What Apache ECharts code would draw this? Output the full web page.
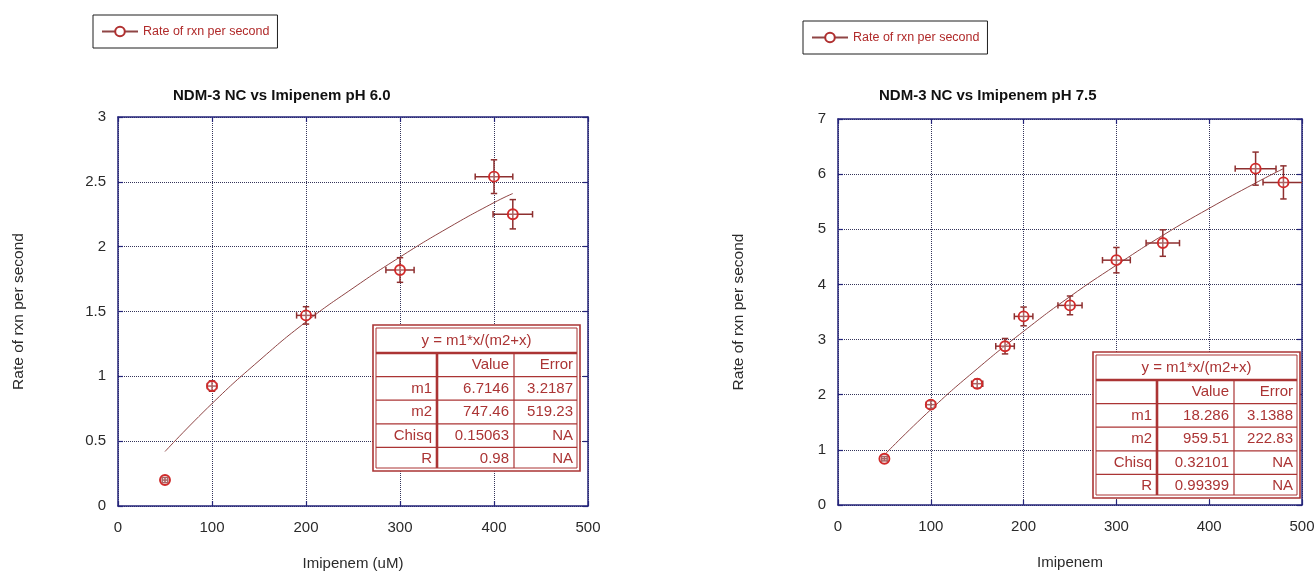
<!DOCTYPE html>
<html>
<head>
<meta charset="utf-8">
<title>NDM-3 NC vs Imipenem</title>
<script src="https://cdn.jsdelivr.net/npm/echarts@6/dist/echarts.min.js"></script>
<style>
  html, body { margin: 0; padding: 0; background: #ffffff; }
  #chart { width: 1315px; height: 572px; }
</style>
</head>
<body>
<div id="chart"></div>
<script>
// ---- measured rates, pH 6.0 ----
const ph60Conc     = [50, 100, 200, 300, 400, 420];
const ph60Rate     = [0.20, 0.925, 1.47, 1.82, 2.54, 2.25];
const ph60ConcErr  = [3, 5, 10, 15, 20, 21];
const ph60RateErr  = [0.02, 0.04, 0.067, 0.095, 0.13, 0.113];
// fitted curve, pH 6.0
const ph60FitConc  = [50, 100, 150, 200, 250, 300, 350, 400, 420];
const ph60FitRate  = [0.42, 0.79, 1.12, 1.42, 1.68, 1.92, 2.14, 2.34, 2.41];

// ---- measured rates, pH 7.5 ----
const ph75Conc     = [50, 100, 150, 180, 200, 250, 300, 350, 450, 480];
const ph75Rate     = [0.84, 1.82, 2.20, 2.88, 3.42, 3.62, 4.44, 4.75, 6.10, 5.85];
const ph75ConcErr  = [3, 5, 6, 10, 10, 13, 15, 18, 22, 22];
const ph75RateErr  = [0.04, 0.07, 0.08, 0.14, 0.17, 0.17, 0.23, 0.24, 0.30, 0.30];
// fitted curve, pH 7.5
const ph75FitConc  = [50, 100, 150, 200, 250, 300, 350, 400, 450, 480];
const ph75FitRate  = [0.91, 1.73, 2.47, 3.15, 3.78, 4.35, 4.89, 5.38, 5.84, 6.10];

// ---- fit parameter tables ----
const fitEquation   = 'y = m1*x/(m2+x)';
const tableHeads    = ['', 'Value', 'Error'];
const paramNames    = ['m1', 'm2', 'Chisq', 'R'];
const ph60FitValue  = ['6.7146', '747.46', '0.15063', '0.98'];
const ph60FitError  = ['3.2187', '519.23', 'NA', 'NA'];
const ph75FitValue  = ['18.286', '959.51', '0.32101', '0.99399'];
const ph75FitError  = ['3.1388', '222.83', 'NA', 'NA'];

// ---- labels ----
const seriesName  = 'Rate of rxn per second';
const titles      = ['NDM-3 NC vs Imipenem pH 6.0', 'NDM-3 NC vs Imipenem pH 7.5'];
const xNames      = ['Imipenem (uM)', 'Imipenem'];
const yName       = 'Rate of rxn per second';

const FONT = 'Liberation Sans, Arial, sans-serif';
const AXIS = '#25257a';
const GRIDLINE = '#34345a';
const RED = '#d02a2a';
const BAR = '#8e2f2f';
const FIT = '#8f4545';
const TABLE_RED = '#ab3434';

const zip = (a, b) => a.map((v, i) => [v, b[i]]);
const zip4 = (a, b, c, d) => a.map((v, i) => [v, b[i], c[i], d[i]]);

// circle marker with horizontal and vertical error bars
function errorBarItem(params, api) {
  const x = api.value(0), y = api.value(1), dx = api.value(2), dy = api.value(3);
  const c = api.coord([x, y]);
  const l = api.coord([x - dx, y]);
  const r = api.coord([x + dx, y]);
  const t = api.coord([x, y + dy]);
  const b = api.coord([x, y - dy]);
  const cap = 3.2;
  const s = { stroke: BAR, lineWidth: 1.5 };
  const ln = (x1, y1, x2, y2) => ({ type: 'line', shape: { x1, y1, x2, y2 }, style: s });
  return {
    type: 'group',
    children: [
      ln(l[0], c[1], r[0], c[1]),
      ln(l[0], c[1] - cap, l[0], c[1] + cap),
      ln(r[0], c[1] - cap, r[0], c[1] + cap),
      ln(c[0], t[1], c[0], b[1]),
      ln(c[0] - cap, t[1], c[0] + cap, t[1]),
      ln(c[0] - cap, b[1], c[0] + cap, b[1]),
      { type: 'circle', shape: { cx: c[0], cy: c[1], r: 5 },
        style: { fill: 'rgba(255,255,255,0.25)', stroke: RED, lineWidth: 1.9 } }
    ]
  };
}

function axesFor(gi, yMax, yInt, xName) {
  const common = {
    type: 'value', gridIndex: gi,
    axisLine: { show: true, onZero: false, lineStyle: { color: AXIS, width: 1.5 } },
    axisTick: { show: true, inside: true, length: 5, lineStyle: { color: AXIS, width: 1.2 } }
  };
  const split = { show: true, lineStyle: { color: GRIDLINE, width: 1, type: 'dotted' } };
  const lbl = { color: '#2a2a2a', fontSize: 15, fontFamily: FONT };
  return {
    x: [
      Object.assign({}, common, {
        position: 'bottom', min: 0, max: 500, interval: 100,
        axisLabel: Object.assign({ margin: 14 }, lbl),
        splitLine: split,
        name: xName, nameLocation: 'middle', nameGap: 50,
        nameTextStyle: { color: '#2a2a2a', fontSize: 15, fontFamily: FONT }
      }),
      Object.assign({}, common, {
        position: 'top', min: 0, max: 500, interval: 100,
        axisLabel: { show: false }, splitLine: { show: false }
      })
    ],
    y: [
      Object.assign({}, common, {
        position: 'left', min: 0, max: yMax, interval: yInt,
        axisLabel: Object.assign({ margin: 12 }, lbl),
        splitLine: split,
        name: yName, nameLocation: 'middle', nameGap: 91,
        nameTextStyle: { color: '#2a2a2a', fontSize: 15.5, fontFamily: FONT }
      }),
      Object.assign({}, common, {
        position: 'right', min: 0, max: yMax, interval: yInt,
        axisLabel: { show: false }, splitLine: { show: false }
      })
    ]
  };
}

// fit-parameter table drawn on top of the plot area
function tableGraphic(x0, y0, values, errors) {
  const colW = [64, 77, 66];
  const W = colW[0] + colW[1] + colW[2];
  const headH = 28, rowH = 23.6;
  const H = headH + rowH * 5;
  const z = 100;
  const els = [];
  els.push({ type: 'rect', z, shape: { x: x0, y: y0, width: W, height: H },
    style: { fill: '#ffffff', stroke: TABLE_RED, lineWidth: 1.6 } });
  els.push({ type: 'rect', z: z + 1, shape: { x: x0 + 3, y: y0 + 3, width: W - 6, height: H - 6 },
    style: { fill: 'none', stroke: TABLE_RED, lineWidth: 1 } });
  const line = (x1, y1, x2, y2, w) => ({ type: 'line', z: z + 2,
    shape: { x1, y1, x2, y2 }, style: { stroke: TABLE_RED, lineWidth: w } });
  els.push(line(x0 + 3, y0 + headH, x0 + W - 3, y0 + headH, 2.4));
  for (let k = 1; k < 5; k++) {
    const yy = y0 + headH + k * rowH;
    els.push(line(x0 + 3, yy, x0 + W - 3, yy, 1.2));
  }
  els.push(line(x0 + colW[0], y0 + headH, x0 + colW[0], y0 + H - 3, 2.6));
  els.push(line(x0 + colW[0] + colW[1], y0 + headH, x0 + colW[0] + colW[1], y0 + H - 3, 1.2));
  const txt = (text, x, y, align) => ({ type: 'text', z: z + 3, x, y,
    style: { text, fill: TABLE_RED, font: '15px ' + FONT, align, verticalAlign: 'middle' } });
  els.push(txt(fitEquation, x0 + W / 2, y0 + 2 + headH / 2, 'center'));
  const rows = [tableHeads].concat(paramNames.map((n, i) => [n, values[i], errors[i]]));
  const rightEdges = [colW[0] - 5, colW[0] + colW[1] - 5, W - 7];
  rows.forEach((row, k) => {
    const yy = y0 + headH + (k + 0.5) * rowH;
    row.forEach((cell, j) => {
      if (cell) els.push(txt(cell, x0 + rightEdges[j], yy, 'right'));
    });
  });
  return els;
}

const a1 = axesFor(0, 3, 0.5, xNames[0]);
const a2 = axesFor(1, 7, 1, xNames[1]);

const legendBase = {
  data: [seriesName],
  orient: 'horizontal',
  itemWidth: 36, itemHeight: 12, itemGap: 5,
  padding: [10, 8, 10, 8],
  borderColor: '#1e1e1e', borderWidth: 1,
  textStyle: { color: '#b02a2a', fontSize: 12.5, fontFamily: FONT },
  selectedMode: false
};

const option = {
  backgroundColor: '#ffffff',
  animation: false,
  title: [
    { text: titles[0], left: 173, top: 88, padding: 0,
      textStyle: { fontSize: 15, fontWeight: 'bold', color: '#111', fontFamily: FONT } },
    { text: titles[1], left: 879, top: 88, padding: 0,
      textStyle: { fontSize: 15, fontWeight: 'bold', color: '#111', fontFamily: FONT } }
  ],
  legend: [
    Object.assign({ left: 93, top: 15 }, legendBase),
    Object.assign({ left: 803, top: 21 }, legendBase)
  ],
  grid: [
    { left: 118, top: 117, width: 470, height: 389, outerBoundsMode: 'none', containLabel: false },
    { left: 838, top: 119, width: 464, height: 386, outerBoundsMode: 'none', containLabel: false }
  ],
  xAxis: [a1.x[0], a1.x[1], a2.x[0], a2.x[1]],
  yAxis: [a1.y[0], a1.y[1], a2.y[0], a2.y[1]],
  series: [
    {
      name: seriesName, type: 'line', xAxisIndex: 0, yAxisIndex: 0,
      data: zip(ph60FitConc, ph60FitRate), smooth: true,
      showSymbol: false, symbol: 'emptyCircle', symbolSize: 8,
      lineStyle: { color: FIT, width: 1 }, itemStyle: { color: '#b03030' },
      silent: true, z: 3
    },
    {
      name: seriesName, type: 'line', xAxisIndex: 2, yAxisIndex: 2,
      data: zip(ph75FitConc, ph75FitRate), smooth: true,
      showSymbol: false, symbol: 'emptyCircle', symbolSize: 8,
      lineStyle: { color: FIT, width: 1 }, itemStyle: { color: '#b03030' },
      silent: true, z: 3
    },
    {
      name: seriesName, type: 'custom', xAxisIndex: 0, yAxisIndex: 0,
      renderItem: errorBarItem, clip: true,
      encode: { x: 0, y: 1 },
      data: zip4(ph60Conc, ph60Rate, ph60ConcErr, ph60RateErr), z: 4
    },
    {
      name: seriesName, type: 'custom', xAxisIndex: 2, yAxisIndex: 2,
      renderItem: errorBarItem, clip: true,
      encode: { x: 0, y: 1 },
      data: zip4(ph75Conc, ph75Rate, ph75ConcErr, ph75RateErr), z: 4
    }
  ],
  graphic: tableGraphic(373, 325, ph60FitValue, ph60FitError)
    .concat(tableGraphic(1093, 352, ph75FitValue, ph75FitError))
};

const chart = echarts.init(document.getElementById('chart'), null, { renderer: 'canvas' });
chart.setOption(option);
</script>
</body>
</html>
